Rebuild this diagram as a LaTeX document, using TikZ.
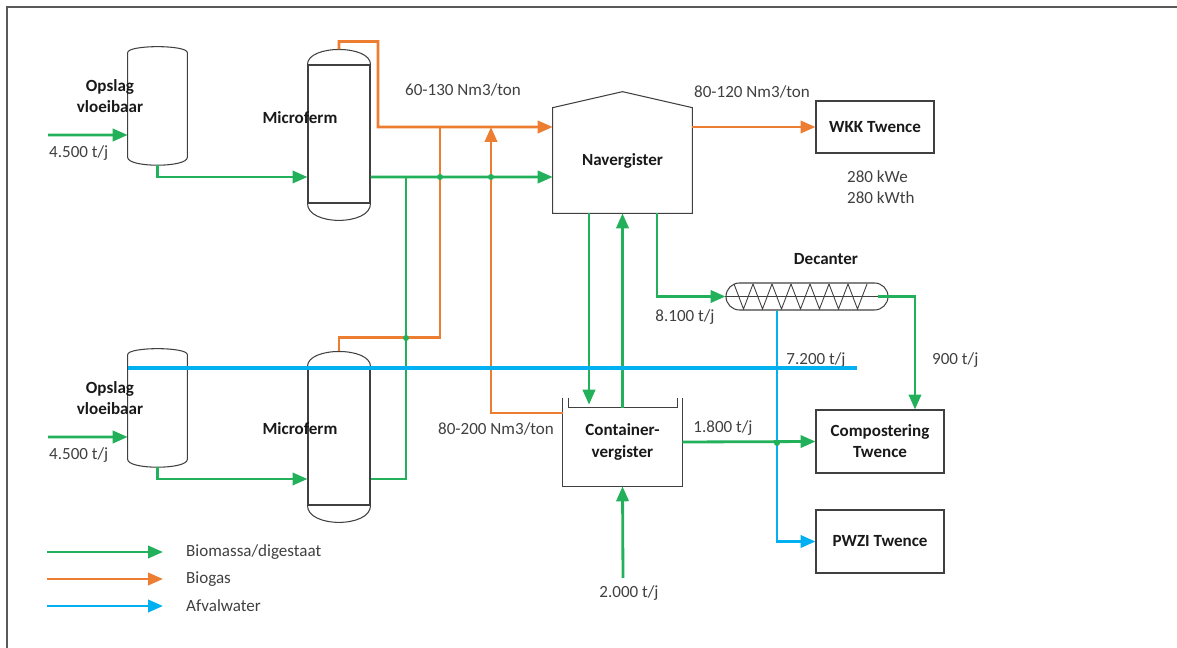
\documentclass[tikz,border=0pt]{standalone}
\usepackage{fontspec}
\setmainfont{Carlito}
\usepackage{xcolor}
\usepackage{tikz}
\usetikzlibrary{arrows.meta}
\definecolor{biogreen}{RGB}{34,177,90}
\definecolor{gasorange}{RGB}{237,125,49}
\definecolor{waterblue}{RGB}{0,176,240}
\definecolor{txtgray}{RGB}{64,64,64}
\tikzset{
	tip/.style={-{Triangle[length=8.5pt,width=7pt]}},
	bio/.style={draw=biogreen, line width=1.6pt},
	gas/.style={draw=gasorange, line width=1.6pt},
	water/.style={draw=waterblue, line width=1.6pt},
	outline/.style={draw=black!75, line width=0.6pt},
	tank/.style={inner sep=0pt},
	lbl/.style={font=\fontsize{9.7}{12}\selectfont, text=txtgray},
	title/.style={font=\fontsize{9.7}{12}\selectfont\bfseries, text=black!90, align=center},
	unit/.style={title, inner sep=0pt},
	unitbox/.style={unit, outline}
}

\begin{document}
\begin{tikzpicture}[x=0.02cm, y=-0.02cm]
	\useasboundingbox (0,0) rectangle (1177,648);
	\draw[black!65, line width=0.6pt] (7,648) -- (7,7) -- (1177,7);

	% opslag + microferm, two rows
	\foreach \r/\dy/\my in {1/0/118, 2/302/429}
	{
		\node[tank, minimum width=1.18cm, minimum height=2.08cm](opslag\r) at (157.5,105+\dy){};
		\draw[outline](opslag\r.north west) -- (opslag\r.south west) .. controls +(0,-0.21cm) and +(0,-0.21cm) .. (opslag\r.south east) -- (opslag\r.north east) .. controls +(0,0.16cm) and +(0,0.16cm) .. (opslag\r.north west);
		\node[title] at (110,96+\dy){Opslag\\vloeibaar};
		\node[tank, outline, minimum width=1.24cm, minimum height=2.76cm](micro\r) at (339,134+\dy){};
		\draw[outline](micro\r.north west) .. controls +(0,0.4cm) and +(0,0.4cm) .. (micro\r.north east);
		\draw[outline](micro\r.south west) .. controls +(0,-0.45cm) and +(0,-0.45cm) .. (micro\r.south east);
		\node[title] at (300,\my){Microferm};
		\coordinate (in\r) at (48,135+\dy);
		\node[lbl, anchor=west] at (43,153+\dy){4.500 t/j};
		\draw[bio, tip](in\r) -- ([yshift=-0.6cm]opslag\r.west);
		\draw[bio, tip]([yshift=-0.16cm]opslag\r.south) |- ([yshift=-0.86cm]micro\r.west);
	}

	\node[unit, minimum width=2.78cm, minimum height=2.1cm](nav) at (622.5,160.5){Navergister};
	\draw[outline](nav.south west) -- (nav.north west) -- ([yshift=0.32cm]nav.north) -- (nav.north east) -- (nav.south east) -- cycle;
	\node[unitbox, minimum width=2.36cm, minimum height=1.04cm](wkk) at (875,127){WKK Twence};
	\node[unit, minimum width=2.38cm, minimum height=1.76cm](cont) at (622.5,442){Container-\\vergister};
	\draw[outline](cont.north west) -- (cont.south west) -- (cont.south east) -- (cont.north east);
	\draw[outline]([xshift=0.12cm]cont.north west) -- ++(0,-0.2cm) -- ([xshift=-0.1cm, yshift=-0.2cm]cont.north east) -- ([xshift=-0.1cm]cont.north east);
	\node[outline, rounded corners=0.27cm, minimum width=3.24cm, minimum height=0.54cm, inner sep=0pt](dec) at (807,296.5){};
	\draw[outline](dec.west) -- (dec.east);
	\foreach \k in {0,...,6}
		\draw[outline, line width=0.5pt](734+19*\k,284) -- (743.5+19*\k,309) -- (753+19*\k,284);
	\node[title] at (826,259){Decanter};
	\node[unitbox, minimum width=2.56cm, minimum height=1.26cm](comp) at (880,441.5){Compostering\\Twence};
	\node[unitbox, minimum width=2.56cm, minimum height=1.26cm](pwzi) at (880,541.5){PWZI Twence};

	\coordinate (gasA) at (378,127);
	\coordinate (gasJ1) at (440,127);
	\coordinate (gasJ2) at (491,127);
	\coordinate (bioJ) at (406,177);
	\coordinate (inC) at (623,578);

	% biogas
	\draw[gas, tip]([yshift=0.3cm]micro1.north) -- ++(0,0.16cm) -| (gasA) -- ([yshift=0.67cm]nav.west);
	\draw[gas]([yshift=0.3cm]micro2.north) -- ++(0,0.28cm) -| (gasJ1);
	\draw[gas, tip]([yshift=0.58cm]cont.west) -| (gasJ2);
	\draw[gas, tip](nav.east |- wkk.west) -- (wkk.west);

	% biomassa
	\draw[bio, tip]([yshift=-0.86cm]micro1.east) -- ([yshift=-0.33cm]nav.west);
	\draw[bio]([yshift=-0.86cm]micro2.east) -| (bioJ);
	\draw[bio, tip]([xshift=-0.67cm]nav.south) -- ([xshift=-0.67cm, yshift=-0.14cm]cont.north);
	\draw[bio, tip]([yshift=-0.2cm]cont.north) -- (nav.south);
	\draw[bio, tip]([xshift=0.69cm]nav.south) |- (dec.west);
	\draw[bio, tip]([xshift=-0.22cm]dec.east) -| ([xshift=0.7cm]comp.north);
	\draw[bio, tip](cont.east) -- (comp.west);
	\draw[bio, tip](inC) -- (cont.south);

	% afvalwater
	\draw[water, tip]([xshift=-0.6cm]dec.south) |- (pwzi.west);
	\foreach \p in {(440,177), (491,177), (406,338), (777,443)}
		\fill[biogreen] \p circle (1.7pt);

	\node[lbl] at (463,90){60-130 Nm3/ton};
	\node[lbl] at (752,92){80-120 Nm3/ton};
	\node[lbl] at (496,429){80-200 Nm3/ton};
	\node[lbl, anchor=west, align=left] at (841,187){280 kWe\\280 kWth};
	\node[lbl] at (685,317){8.100 t/j};
	\node[lbl] at (816,360){7.200 t/j};
	\node[lbl, anchor=west] at (926,360){900 t/j};
	\node[lbl] at (723,428){1.800 t/j};
	\node[lbl] at (629,593){2.000 t/j};

	\draw[waterblue, line width=2.8pt](128,368) -- (857,368);

	% legend
	\foreach \c/\lab [count=\i] in {bio/{Biomassa/digestaat}, gas/Biogas, water/Afvalwater}
	{
		\draw[\c, tip](47,525+27*\i) -- (163,525+27*\i);
		\node[lbl, anchor=west] at (180,525+27*\i){\lab};
	}
\end{tikzpicture}
\end{document}
